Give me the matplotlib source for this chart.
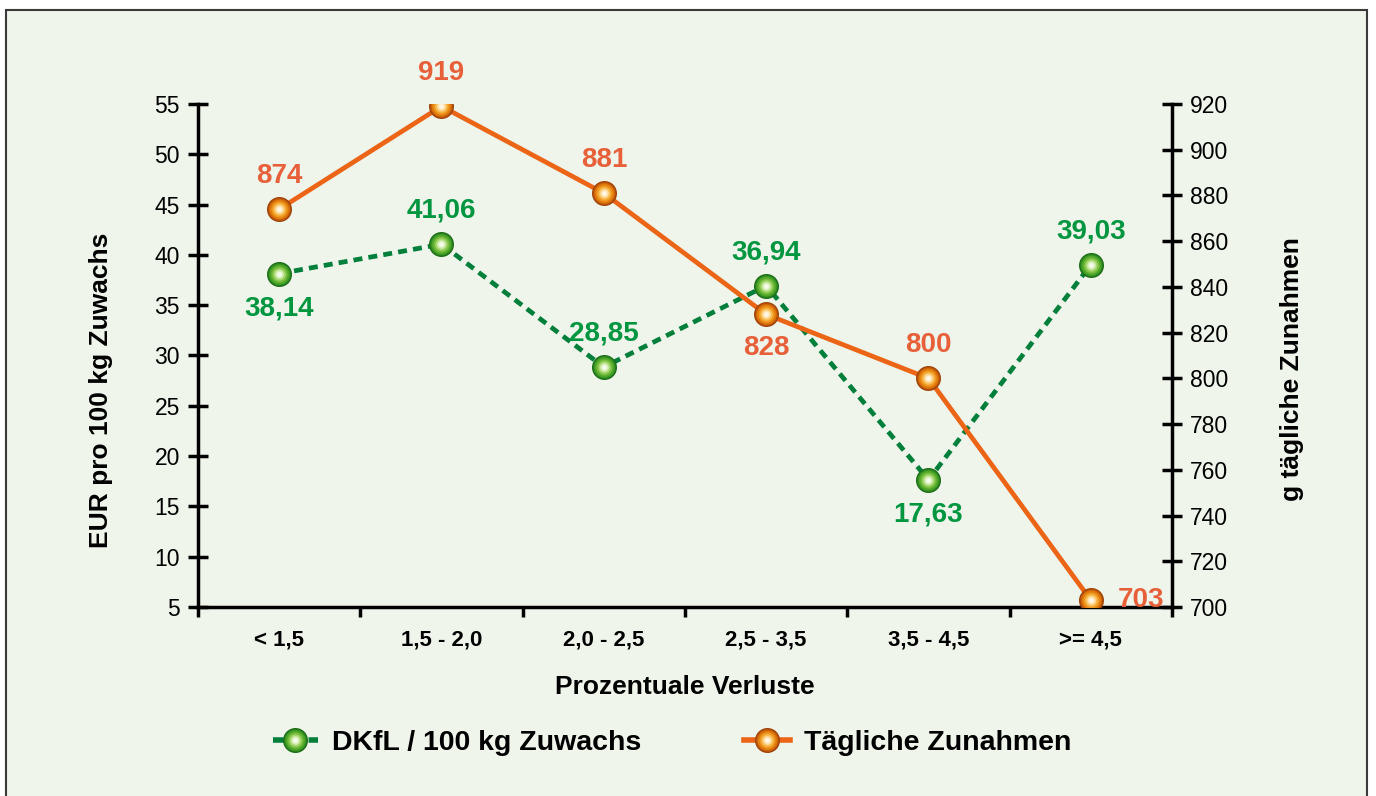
import matplotlib
matplotlib.use("Agg")
import matplotlib.pyplot as plt
from matplotlib.patches import Rectangle
from matplotlib.lines import Line2D
from matplotlib.legend_handler import HandlerTuple

plt.rcParams['font.family'] = ['Liberation Sans', 'DejaVu Sans']

categories = ["< 1,5", "1,5 - 2,0", "2,0 - 2,5", "2,5 - 3,5", "3,5 - 4,5", ">= 4,5"]
dkfl = [38.14, 41.06, 28.85, 36.94, 17.63, 39.03]
zunahmen = [874, 919, 881, 828, 800, 703]
dkfl_labels = ["38,14", "41,06", "28,85", "36,94", "17,63", "39,03"]
zun_labels = ["874", "919", "881", "828", "800", "703"]
left_ticks = list(range(5, 56, 5))
right_ticks = list(range(700, 921, 20))

GREEN = "#007F3A"
GREEN_TXT = "#00963F"
ORANGE = "#EC6517"
ORANGE_TXT = "#E8603A"
DASH = (0, (1.9, 1.3))
MS = 17

fig = plt.figure(figsize=(13.76, 7.96), dpi=100, facecolor="white")
fig.patches.append(Rectangle((6/1376, -0.02), (1367-6)/1376, 1 - 10/796 + 0.02,
                             transform=fig.transFigure, facecolor="#EFF5EB",
                             edgecolor="#3a3a3a", linewidth=1.5, zorder=-10))

ax = fig.add_axes([198/1376, 1-607/796, (1172-198)/1376, (607-104)/796])
ax.set_facecolor("none")
ax2 = ax.twinx()

x = list(range(len(categories)))

def sphere(axis, xs, ys, edge, shades, size=MS):
    axis.plot(xs, ys, linestyle="none", marker="o", markersize=size,
              markerfacecolor=shades[0], markeredgecolor=edge, markeredgewidth=1.0, zorder=5)
    n = len(shades)
    for i, c in enumerate(shades[1:], 1):
        s = size * (1 - i / (n + 0.3))
        axis.plot(xs, ys, linestyle="none", marker="o", markersize=s,
                  markerfacecolor=c, markeredgecolor="none", zorder=5 + i)

green_shades = ["#2E8F1E", "#4FA62A", "#78BE3E", "#A6D66E", "#D6EEB8", "#F4FBEA"]
orange_shades = ["#C4590A", "#E07A0C", "#F09A22", "#F8BE55", "#FCE0A8", "#FFF6E4"]

ax.plot(x, dkfl, color=GREEN, linewidth=3.4, linestyle=DASH, zorder=3)
sphere(ax, x, dkfl, "#1E6E1A", green_shades)
ax2.plot(x, zunahmen, color=ORANGE, linewidth=3.4, zorder=3)
sphere(ax2, x, zunahmen, "#A0460A", orange_shades)

ax.set_xlim(-0.5, len(categories) - 0.5)
ax.set_ylim(5, 55)
ax2.set_ylim(700, 920)
ax.set_yticks(left_ticks)
ax2.set_yticks(right_ticks)
ax.set_xticks(x)
ax.set_xticklabels(categories, fontsize=16, fontweight="bold")
ax.set_xticks([i - 0.5 for i in range(len(categories) + 1)], minor=True)
ax.tick_params(axis="x", which="major", length=0, pad=16)
ax.tick_params(axis="x", which="minor", length=7, width=2.5, direction="out")
ax.tick_params(axis="y", length=14, width=2.5, direction="inout", labelsize=16.5, pad=6)
ax2.tick_params(axis="y", length=14, width=2.5, direction="inout", labelsize=16.5, pad=6)

for a in (ax, ax2):
    a.spines["top"].set_visible(False)
    for s in ("left", "right", "bottom"):
        a.spines[s].set_linewidth(2.5)
ax.spines["right"].set_visible(False)
ax2.spines["left"].set_visible(False)
ax2.spines["bottom"].set_visible(False)

ax.set_ylabel("EUR pro 100 kg Zuwachs", fontsize=19, fontweight="bold")
ax.yaxis.set_label_coords((113 - 198) / 974, (607 - 390) / 503)
ax2.set_ylabel("g tägliche Zunahmen", fontsize=19, fontweight="bold", rotation=90)
ax2.yaxis.set_label_coords((1280 - 198) / 974, (607 - 369) / 503)
ax.set_xlabel("Prozentuale Verluste", fontsize=19, fontweight="bold", labelpad=18)

green_off = [(0, -25), (0, 24), (0, 24), (0, 24), (0, -25), (0, 24)]
orange_off = [(0, 24), (0, 24), (0, 24), (0, -24), (0, 24), (36, 0)]
for i in x:
    ax.annotate(dkfl_labels[i], (i, dkfl[i]), xytext=green_off[i], textcoords="offset points",
                ha="center", va="center", fontsize=20, fontweight="bold", color=GREEN_TXT, zorder=20)
    ax2.annotate(zun_labels[i], (i, zunahmen[i]), xytext=orange_off[i], textcoords="offset points",
                 ha="center", va="center", fontsize=20, fontweight="bold", color=ORANGE_TXT, zorder=20)

def legend_handle(line_color, ls, edge, shades):
    parts = [Line2D([], [], color=line_color, linewidth=4, linestyle=ls)]
    parts.append(Line2D([], [], linestyle="none", marker="o", markersize=MS,
                        markerfacecolor=shades[0], markeredgecolor=edge))
    for i, c in enumerate(shades[1:], 1):
        parts.append(Line2D([], [], linestyle="none", marker="o",
                            markersize=MS * (1 - i / (len(shades) + 0.3)),
                            markerfacecolor=c, markeredgecolor="none"))
    return tuple(parts)

h1 = legend_handle(GREEN, DASH, "#1E6E1A", green_shades)
h2 = legend_handle(ORANGE, "-", "#A0460A", orange_shades)
fig.legend([h1, h2], ["DKfL / 100 kg Zuwachs", "Tägliche Zunahmen"],
           handler_map={tuple: HandlerTuple(ndivide=1, pad=0)},
           loc="center", bbox_to_anchor=(672/1376, 1 - 743/796), ncol=2, frameon=False,
           prop={"size": 20.5, "weight": "bold"}, handlelength=1.6, columnspacing=3.6,
           handletextpad=0.5, numpoints=1)

fig.savefig("out.png", dpi=100, facecolor="white")
